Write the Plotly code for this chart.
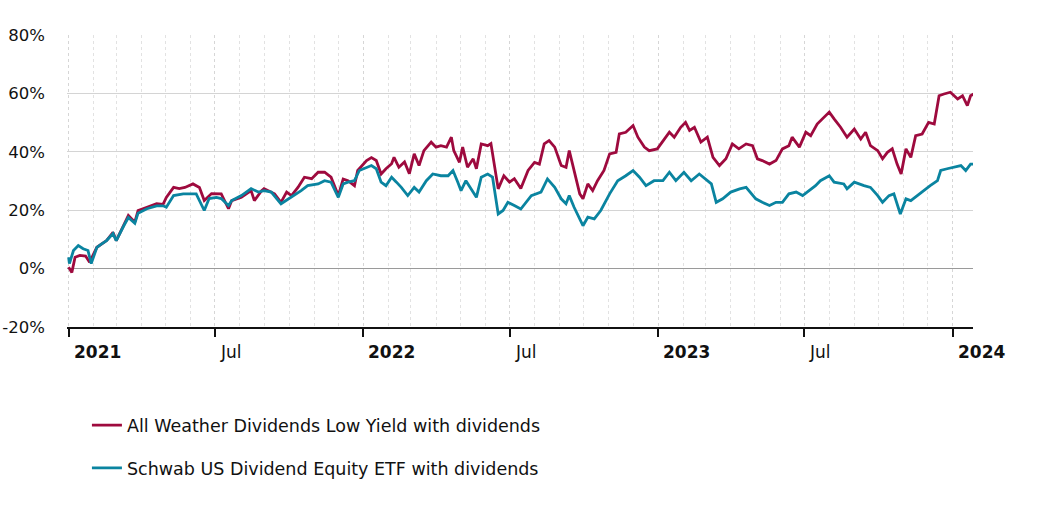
import pandas as pd
import plotly.graph_objects as go

BASE = "2021-01-01"

# All Weather Dividends Low Yield (days since 2021-01-01, cumulative return %)
red_days = [0, 4, 8, 14, 21, 26, 35, 41, 47, 55, 59, 68, 74, 82, 86, 97, 109, 117, 121, 130,
            137, 144, 154, 162, 168, 177, 183, 189, 198, 202, 214, 226, 230, 239, 242, 255, 263,
            270, 276, 284, 292, 301, 309, 317, 325, 334, 340, 346, 354, 358, 369, 375, 381, 387,
            393, 400, 403, 409, 416, 422, 428, 434, 440, 449, 455, 461, 468, 474, 477, 484, 488,
            494, 501, 505, 511, 519, 523, 532, 539, 546, 552, 560, 569, 577, 583, 589, 595, 602,
            610, 616, 620, 626, 633, 637, 643, 649, 655, 663, 670, 678, 682, 690, 699, 705, 713,
            719, 729, 738, 744, 750, 758, 764, 769, 775, 783, 791, 798, 806, 814, 822, 830, 839,
            847, 853, 859, 868, 876, 884, 892, 896, 905, 913, 919, 927, 935, 942, 948, 956, 964,
            973, 981, 987, 993, 1002, 1008, 1014, 1020, 1026, 1031, 1037, 1043, 1049, 1057, 1065,
            1072, 1078, 1084, 1092, 1101, 1107, 1113, 1117, 1121]
red_vals = [0.5, -1.3, 3.9, 4.5, 4.3, 2.2, 7.3, 8.5, 9.6, 12.4, 9.6, 14.7, 18.2, 15.9, 19.9, 21.0,
            22.2, 22.0, 24.4, 27.8, 27.4, 27.8, 29.0, 27.8, 23.3, 25.7, 25.7, 25.6, 20.5, 23.3,
            24.4, 26.7, 23.3, 26.7, 27.4, 25.6, 22.7, 26.2, 25.0, 27.8, 31.3, 30.8, 33.0, 33.0,
            31.3, 25.0, 30.7, 30.1, 28.4, 33.6, 37.0, 38.0, 37.0, 32.4, 34.2, 35.9, 38.1, 34.7,
            36.5, 32.5, 39.3, 35.3, 40.4, 43.3, 41.6, 42.1, 41.6, 45.0, 40.4, 36.4, 41.6, 34.7,
            37.6, 34.2, 42.7, 42.1, 42.8, 27.3, 31.8, 29.6, 30.8, 27.4, 33.6, 36.4, 35.8, 42.7,
            43.8, 41.6, 35.3, 34.7, 40.4, 33.6, 25.6, 23.9, 29.0, 26.7, 30.1, 33.6, 39.3, 39.8,
            46.1, 46.7, 49.0, 45.0, 41.6, 40.4, 41.0, 44.4, 46.7, 45.0, 48.4, 50.1, 47.3, 48.4,
            43.3, 45.0, 38.1, 35.3, 37.6, 42.7, 41.0, 42.7, 42.1, 37.6, 37.0, 35.8, 37.0, 41.0,
            42.1, 45.0, 41.6, 46.7, 45.5, 49.5, 51.8, 53.6, 51.3, 48.4, 45.0, 47.8, 44.4, 46.7,
            42.1, 40.4, 37.6, 39.8, 41.0, 35.8, 32.4, 41.0, 38.1, 45.5, 46.1, 50.1, 49.5, 59.2,
            59.8, 60.4, 58.1, 59.2, 55.8, 59.2, 59.8]

# Schwab US Dividend Equity ETF (days since 2021-01-01, cumulative return %)
teal_days = [0, 1, 6, 12, 18, 24, 28, 35, 41, 47, 55, 59, 68, 74, 82, 86, 97, 109, 117, 121, 130,
             142, 158, 168, 174, 183, 189, 198, 202, 214, 226, 235, 242, 251, 263, 276, 288, 296,
             309, 317, 325, 334, 340, 346, 354, 360, 371, 375, 381, 387, 393, 400, 406, 412, 420,
             428, 434, 443, 451, 461, 470, 476, 482, 486, 492, 498, 505, 511, 519, 525, 532, 538,
             544, 552, 560, 573, 585, 593, 602, 610, 616, 620, 626, 637, 643, 651, 659, 670, 680,
             690, 699, 707, 715, 725, 736, 744, 752, 762, 771, 781, 796, 802, 810, 820, 831, 839,
             851, 859, 868, 876, 884, 892, 901, 909, 917, 925, 931, 942, 948, 960, 964, 973, 985,
             993, 1002, 1008, 1016, 1022, 1030, 1037, 1043, 1051, 1061, 1067, 1076, 1080, 1088,
             1096, 1105, 1111, 1117, 1121]
teal_vals = [3.9, 1.7, 6.2, 7.9, 6.8, 6.2, 1.7, 7.3, 8.5, 9.6, 12.0, 9.6, 14.5, 17.5, 15.5, 19.0,
             20.5, 21.5, 21.5, 21.0, 25.0, 25.6, 25.6, 19.9, 24.0, 24.4, 24.0, 21.6, 23.3, 25.0,
             27.4, 26.2, 26.7, 26.2, 22.2, 24.4, 26.7, 28.4, 29.0, 30.1, 29.6, 24.4, 29.0, 29.6,
             30.1, 33.6, 34.7, 35.3, 34.2, 29.6, 28.4, 31.3, 29.6, 27.8, 25.0, 27.8, 26.2, 30.1,
             32.4, 31.8, 31.8, 33.6, 29.6, 26.7, 30.1, 27.3, 24.4, 31.3, 32.4, 31.3, 18.7, 19.9,
             22.7, 21.6, 20.4, 25.0, 26.2, 30.7, 27.8, 23.9, 22.2, 25.0, 21.0, 14.7, 17.6, 17.0,
             19.9, 25.6, 30.1, 31.8, 33.6, 31.3, 28.4, 30.1, 30.1, 33.0, 30.1, 33.0, 30.1, 32.4,
             29.0, 22.7, 23.9, 26.2, 27.3, 27.8, 23.9, 22.7, 21.6, 22.7, 22.7, 25.6, 26.2, 25.0,
             26.7, 28.4, 30.1, 31.8, 29.6, 29.0, 27.3, 29.6, 28.4, 27.8, 25.0, 22.7, 25.0, 25.6,
             18.7, 23.9, 23.3, 25.0, 27.3, 28.4, 30.1, 33.6, 34.2, 34.7, 35.3, 33.6, 35.8, 35.8]

series_names = ["All Weather Dividends Low Yield with dividends",
                "Schwab US Dividend Equity ETF with dividends"]
series_colors = ["#9E0A3E", "#0A84A0"]

tick_dates = ["2021-01-01", "2021-07-01", "2022-01-01", "2022-07-01",
              "2023-01-01", "2023-07-01", "2024-01-01"]
tick_texts = ["<b>2021</b>", "Jul", "<b>2022</b>", "Jul", "<b>2023</b>", "Jul", "<b>2024</b>"]

y_tickvals = [-20, 0, 20, 40, 60, 80]
y_ticktext = ["-20%", "0%", "20%", "40%", "60%", "80%"]

base = pd.Timestamp(BASE)
red_x = [base + pd.Timedelta(days=d) for d in red_days]
teal_x = [base + pd.Timedelta(days=d) for d in teal_days]

FONT = "Verdana, DejaVu Sans, sans-serif"

fig = go.Figure()
fig.add_trace(go.Scatter(x=red_x, y=red_vals, mode="lines", name=series_names[0],
                         line=dict(color=series_colors[0], width=2.8), legendgroup="a"))
fig.add_trace(go.Scatter(x=teal_x, y=teal_vals, mode="lines", name=series_names[1],
                         line=dict(color=series_colors[1], width=2.8), legendgroup="b"))

for d, t in zip(tick_dates, tick_texts):
    fig.add_annotation(x=d, y=-0.086, xref="x", yref="paper", text=t, showarrow=False,
                       xanchor="left", yanchor="middle", xshift=3,
                       font=dict(family=FONT, size=17, color="#111"))

fig.update_layout(
    width=1038, height=528,
    margin=dict(l=67, r=65, t=35, b=201),
    paper_bgcolor="white", plot_bgcolor="white",
    font=dict(family=FONT, size=17, color="#111"),
    showlegend=True,
    legend=dict(orientation="v", x=0.022, xanchor="left", y=-0.275, yanchor="top",
                font=dict(family=FONT, size=17.5, color="#111"),
                tracegroupgap=17, bgcolor="rgba(0,0,0,0)"),
    xaxis=dict(type="date", range=["2020-12-30", "2024-01-26"], automargin=False,
               showticklabels=False, ticks="outside", ticklen=8, tickwidth=1.5,
               tickcolor="#111", dtick="M6", tick0="2021-01-01",
               showline=True, linecolor="#111", linewidth=2,
               showgrid=True, gridcolor="#d6d6d6", griddash="dot", gridwidth=1,
               minor=dict(dtick="M1", showgrid=True, gridcolor="#e2e2e2", griddash="dot",
                          gridwidth=1),
               zeroline=False),
    yaxis=dict(range=[-20, 80], tickmode="array", tickvals=y_tickvals, ticktext=y_ticktext,
               automargin=False, showgrid=True,
               gridcolor="#d4d4d4", gridwidth=1, zeroline=True, zerolinecolor="#9a9a9a",
               zerolinewidth=1.2, ticks="", ticklabelstandoff=21,
               tickfont=dict(family=FONT, size=16.5, color="#111")),
)

fig.write_html("out.html", config={"displayModeBar": False},
               post_script="document.body.style.margin='0';")
